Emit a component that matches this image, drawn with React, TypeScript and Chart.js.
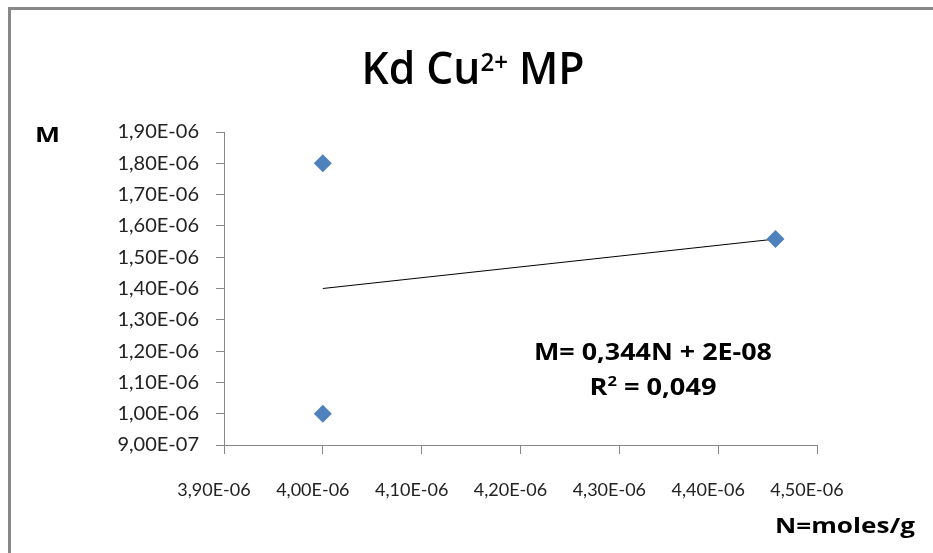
import React, { useEffect, useRef } from "react";
import { Chart, registerables } from "chart.js";

Chart.register(...registerables);

const titleMain = "Kd Cu";
const titleSup = "2+";
const titleEnd = " MP";
const yAxisLabel = "M";
const xAxisLabel = "N=moles/g";
const equationText = "M= 0,344N + 2E-08";
const r2Prefix = "R";
const r2Sup = "2";
const r2Rest = " = 0,049";

const nValues = [4.0e-6, 4.0e-6, 4.458e-6];
const mValues = [1.8e-6, 1.0e-6, 1.558e-6];

const xMin = 3.9e-6;
const xMax = 4.5e-6;
const yMin = 9.0e-7;
const yMax = 1.9e-6;
const tickStep = 1.0e-7;

function fmt(v: number): string {
  const s = v.toExponential(2);
  const [mant, exp] = s.split("e");
  const e = parseInt(exp, 10);
  const sign = e < 0 ? "-" : "+";
  const abs = Math.abs(e);
  return mant.replace(".", ",") + "E" + sign + (abs < 10 ? "0" + abs : String(abs));
}

function regression(xs: number[], ys: number[]) {
  const n = xs.length;
  const mx = xs.reduce((a, b) => a + b, 0) / n;
  const my = ys.reduce((a, b) => a + b, 0) / n;
  let sxy = 0;
  let sxx = 0;
  for (let i = 0; i < n; i++) {
    sxy += (xs[i] - mx) * (ys[i] - my);
    sxx += (xs[i] - mx) * (xs[i] - mx);
  }
  const slope = sxy / sxx;
  return { slope, intercept: my - slope * mx };
}

function drawFitted(ctx: CanvasRenderingContext2D, text: string, cx: number, cy: number, font: string, width: number, align: string) {
  ctx.save();
  ctx.font = font;
  const w = ctx.measureText(text).width;
  const s = width / w;
  ctx.translate(cx, cy);
  ctx.scale(s, 1);
  ctx.textAlign = align as CanvasTextAlign;
  ctx.textBaseline = "alphabetic";
  ctx.fillText(text, 0, 0);
  ctx.restore();
}

function drawSupText(ctx: CanvasRenderingContext2D, parts: [string, string, string], cx: number, base: number, font: string, supFont: string, supRise: number, width: number) {
  ctx.save();
  ctx.font = font;
  const a = ctx.measureText(parts[0]).width;
  const c = ctx.measureText(parts[2]).width;
  ctx.font = supFont;
  const b = ctx.measureText(parts[1]).width;
  const tot = a + b + c;
  const s = width / tot;
  ctx.translate(cx - width / 2, base);
  ctx.scale(s, 1);
  ctx.textAlign = "left";
  ctx.textBaseline = "alphabetic";
  ctx.font = font;
  ctx.fillText(parts[0], 0, 0);
  ctx.font = supFont;
  ctx.fillText(parts[1], a, -supRise);
  ctx.font = font;
  ctx.fillText(parts[2], a + b, 0);
  ctx.restore();
}

const overlayPlugin = {
  id: "overlay",
  afterDraw(chart: any) {
    const ctx: CanvasRenderingContext2D = chart.ctx;
    ctx.save();
    ctx.strokeStyle = "#888888";
    ctx.lineWidth = 3;
    ctx.beginPath();
    ctx.moveTo(9.5, 560);
    ctx.lineTo(9.5, 8.5);
    ctx.lineTo(940, 8.5);
    ctx.stroke();

    ctx.fillStyle = "#000000";
    drawSupText(ctx, [titleMain, titleSup, titleEnd], 473, 84, '600 46px "Open Sans"', '600 26px "Open Sans"', 13, 223);

    drawFitted(ctx, yAxisLabel, 35, 142, 'bold 22px "Open Sans"', 25, "left");
    drawFitted(ctx, xAxisLabel, 775, 533, 'bold 22px "Open Sans"', 140, "left");

    drawFitted(ctx, equationText, 653, 360, 'bold 23px "Open Sans"', 238, "center");
    drawSupText(ctx, [r2Prefix, r2Sup, r2Rest], 653, 395, 'bold 23px "Open Sans"', 'bold 14px "Open Sans"', 9, 127);

    ctx.restore();
  },
};

export default function App() {
  const ref = useRef<HTMLCanvasElement | null>(null);
  useEffect(() => {
    if (!ref.current) return;
    const { slope, intercept } = regression(nValues, mValues);
    const fx0 = Math.min(...nValues);
    const fx1 = Math.max(...nValues);
    const points = nValues.map((n, i) => ({ x: n, y: mValues[i] }));
    const trend = [
      { x: fx0, y: slope * fx0 + intercept },
      { x: fx1, y: slope * fx1 + intercept },
    ];
    const chart = new Chart(ref.current, {
      type: "scatter",
      data: {
        datasets: [
          {
            label: "Trend",
            data: trend,
            showLine: true,
            borderColor: "#000000",
            borderWidth: 1,
            pointRadius: 0,
            order: 2,
          } as any,
          {
            label: "Kd",
            data: points,
            pointStyle: "rectRot",
            pointRadius: 9,
            backgroundColor: "#4F81BD",
            borderColor: "#4F81BD",
            borderWidth: 0,
            order: 1,
          } as any,
        ],
      },
      options: {
        animation: false,
        responsive: false,
        devicePixelRatio: 1,
        layout: { padding: { left: 0, top: 132, right: 116, bottom: 0 } },
        plugins: {
          legend: { display: false },
          tooltip: { enabled: false },
          title: { display: false },
        },
        scales: {
          x: {
            type: "linear",
            min: xMin,
            max: xMax,
            afterFit(scale: any) {
              scale.height = 108;
            },
            ticks: {
              stepSize: tickStep,
              callback: (v: any) => fmt(Number(v)),
              color: "#222222",
              font: { family: "Lato", size: 18 },
              padding: 25,
              maxRotation: 0,
              autoSkip: false,
              labelOffset: -10,
            },
            grid: { drawOnChartArea: false, drawTicks: true, tickLength: 9, color: "#888888" },
            border: { color: "#888888", width: 1 },
          },
          y: {
            type: "linear",
            min: yMin,
            max: yMax,
            afterFit(scale: any) {
              scale.width = 224;
            },
            ticks: {
              stepSize: tickStep,
              callback: (v: any) => fmt(Number(v)),
              color: "#222222",
              font: { family: "Lato", size: 20 },
              padding: 17,
              autoSkip: false,
            },
            grid: { drawOnChartArea: false, drawTicks: true, tickLength: 8, color: "#888888" },
            border: { color: "#888888", width: 1 },
          },
        },
      } as any,
      plugins: [overlayPlugin],
    });
    return () => chart.destroy();
  }, []);
  return (
    <div style={{ position: "fixed", left: 0, top: 0, width: 933, height: 553, background: "#ffffff" }}>
      <canvas ref={ref} width={933} height={553} style={{ width: 933, height: 553, display: "block" }} />
    </div>
  );
}
